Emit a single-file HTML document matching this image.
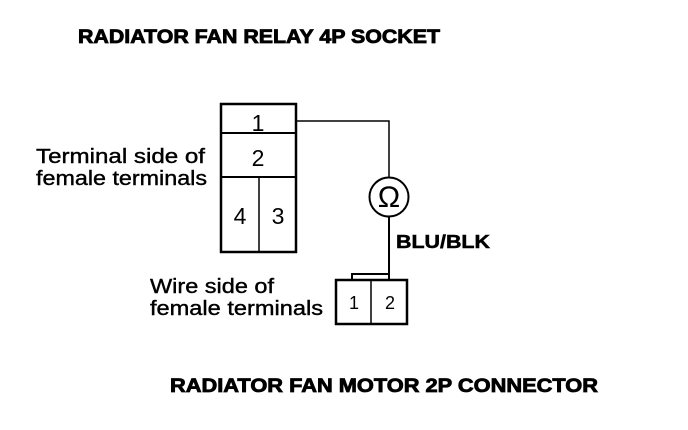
<!DOCTYPE html>
<html><head><style>html,body{margin:0;padding:0;background:#fff}</style></head>
<body>
<svg width="688" height="430" viewBox="0 0 688 430" xmlns="http://www.w3.org/2000/svg" style="display:block">
<rect width="688" height="430" fill="#fff"/>
<g font-family="Liberation Sans, Arial, sans-serif" fill="#000">
<text x="78" y="43" font-size="19" font-weight="bold" stroke="#000" stroke-width="0.8" textLength="362" lengthAdjust="spacingAndGlyphs">RADIATOR FAN RELAY 4P SOCKET</text>
<text x="36" y="163" font-size="20" stroke="#000" stroke-width="0.4" textLength="169" lengthAdjust="spacingAndGlyphs">Terminal side of</text>
<text x="36" y="185" font-size="20" stroke="#000" stroke-width="0.4" textLength="171" lengthAdjust="spacingAndGlyphs">female terminals</text>
<text x="150" y="293" font-size="20" stroke="#000" stroke-width="0.4" textLength="124" lengthAdjust="spacingAndGlyphs">Wire side of</text>
<text x="150" y="315" font-size="20" stroke="#000" stroke-width="0.4" textLength="173" lengthAdjust="spacingAndGlyphs">female terminals</text>
<text x="396" y="248" font-size="18" font-weight="bold" stroke="#000" stroke-width="0.5" textLength="94" lengthAdjust="spacingAndGlyphs">BLU/BLK</text>
<text x="170" y="392" font-size="19" font-weight="bold" stroke="#000" stroke-width="0.8" textLength="428" lengthAdjust="spacingAndGlyphs">RADIATOR FAN MOTOR 2P CONNECTOR</text>
<text x="258" y="131" font-size="23" text-anchor="middle">1</text>
<text x="258" y="166" font-size="23" text-anchor="middle">2</text>
<text x="240" y="224" font-size="23" text-anchor="middle">4</text>
<text x="278" y="224" font-size="23" text-anchor="middle">3</text>
<text x="354" y="309" font-size="18" text-anchor="middle">1</text>
<text x="390" y="309" font-size="18" text-anchor="middle">2</text>
<text x="389" y="207" font-size="30" text-anchor="middle">Ω</text>
</g>
<g stroke="#000" fill="none">
<rect x="221" y="104" width="75" height="148" stroke-width="2.5"/>
<line x1="221" y1="133" x2="296" y2="133" stroke-width="2"/>
<line x1="221" y1="177" x2="296" y2="177" stroke-width="2"/>
<line x1="259" y1="177" x2="259" y2="252" stroke-width="1.5"/>
<polyline points="296,121 389,121 389,177" stroke-width="1.5"/>
<circle cx="389" cy="197" r="19.5" stroke-width="2"/>
<line x1="389" y1="217" x2="389" y2="274" stroke-width="2"/>
<rect x="352" y="274" width="37" height="6" stroke-width="2"/>
<rect x="336" y="280" width="71" height="44" stroke-width="2.5"/>
<line x1="371" y1="280" x2="371" y2="324" stroke-width="1.5"/>
</g>
</svg>
</body></html>
